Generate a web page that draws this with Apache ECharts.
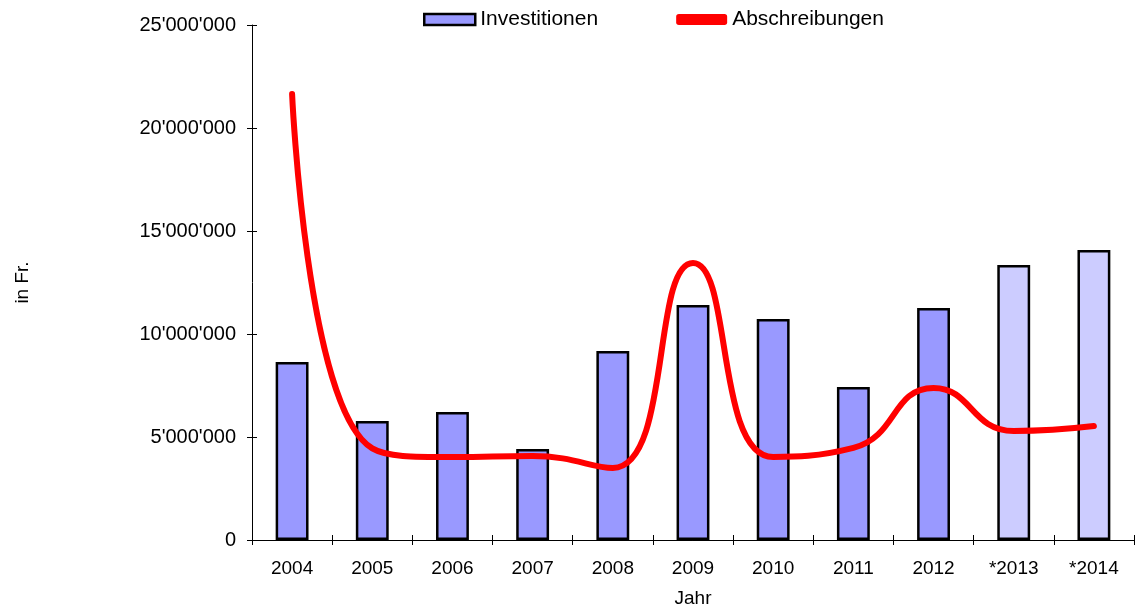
<!DOCTYPE html>
<html>
<head>
<meta charset="utf-8">
<script src="https://cdn.jsdelivr.net/npm/echarts@6/dist/echarts.min.js"></script>
<style>
  html, body { margin: 0; padding: 0; background: #fff; }
  #chart { width: 1136px; height: 610px; }
</style>
</head>
<body>
<div id="chart"></div>
<script>
// Daten
const years = ['2004', '2005', '2006', '2007', '2008', '2009', '2010', '2011', '2012', '*2013', '*2014'];
const investitionen = [8640000, 5780000, 6210000, 4420000, 9170000, 11410000, 10730000, 7430000, 11260000, 13350000, 14080000];
const abschreibungen = [21650000, 4450000, 4030000, 4080000, 3500000, 13450000, 4030000, 4470000, 7380000, 5290000, 5530000];
const yTicks = [0, 5000000, 10000000, 15000000, 20000000, 25000000];

const font = 'Liberation Sans, Arial, sans-serif';

// Tausendertrennzeichen mit Apostroph
const fmt = v => String(v).replace(/\B(?=(\d{3})+(?!\d))/g, "'");

const chart = echarts.init(document.getElementById('chart'));

const option = {
  animation: false,
  textStyle: { fontFamily: font, color: '#000' },
  legend: {
    left: 418,
    top: 4,
    itemWidth: 51,
    itemHeight: 11,
    itemGap: 78,
    textStyle: { fontSize: 21, fontFamily: font, color: '#000' },
    data: [
      { name: 'Investitionen', icon: 'rect', itemStyle: { color: '#9999FF', borderColor: '#000', borderWidth: 2.5 } },
      { name: 'Abschreibungen', icon: 'roundRect', itemStyle: { color: '#FF0000', borderWidth: 0 } }
    ]
  },
  grid: { left: 252, right: 2, top: 25, bottom: 70, outerBoundsMode: 'none' },
  xAxis: [
    {
      type: 'category',
      data: years,
      name: 'Jahr',
      nameLocation: 'middle',
      nameGap: 49,
      nameTextStyle: { fontSize: 19, fontFamily: font, color: '#000' },
      axisLine: { lineStyle: { color: '#000', width: 1 } },
      axisTick: { show: true, length: 5, lineStyle: { color: '#000' } },
      axisLabel: { fontSize: 19, color: '#000', margin: 19, fontFamily: font },
      splitLine: { show: false }
    },
    {
      type: 'category',
      data: years,
      position: 'bottom',
      axisLine: { show: false },
      axisTick: { show: true, inside: true, length: 5, lineStyle: { color: '#000' } },
      axisLabel: { show: false },
      splitLine: { show: false }
    }
  ],
  yAxis: [
    {
      type: 'value',
      min: yTicks[0],
      max: yTicks[yTicks.length - 1],
      interval: yTicks[1] - yTicks[0],
      name: 'in Fr.',
      nameLocation: 'middle',
      nameRotate: 90,
      nameGap: 220,
      nameTextStyle: { fontSize: 19, fontFamily: font, color: '#000' },
      axisLine: { show: true, lineStyle: { color: '#000', width: 1 } },
      axisTick: { show: true, length: 5, lineStyle: { color: '#000' } },
      axisLabel: { fontSize: 20, color: '#000', margin: 16, fontFamily: font, formatter: fmt },
      splitLine: { show: false }
    },
    {
      type: 'value',
      position: 'left',
      min: yTicks[0],
      max: yTicks[yTicks.length - 1],
      interval: yTicks[1] - yTicks[0],
      axisLine: { show: false },
      axisTick: { show: true, inside: true, length: 5, lineStyle: { color: '#000' } },
      axisLabel: { show: false },
      splitLine: { show: false }
    }
  ],
  series: [
    {
      name: 'Investitionen',
      type: 'bar',
      barWidth: '41%',
      data: investitionen.map((v, i) => ({
        value: v,
        itemStyle: {
          color: years[i].startsWith('*') ? '#CCCCFF' : '#9999FF',
          borderColor: '#000',
          borderWidth: 2.5
        }
      })),
      itemStyle: { color: '#9999FF', borderColor: '#000', borderWidth: 2.5 }
    },
    {
      name: 'Abschreibungen',
      type: 'line',
      data: abschreibungen,
      smooth: 0.5,
      symbol: 'none',
      z: 5,
      lineStyle: { color: '#FF0000', width: 6, cap: 'round', join: 'round' },
      itemStyle: { color: '#FF0000' }
    }
  ]
};

chart.setOption(option);
</script>
</body>
</html>
